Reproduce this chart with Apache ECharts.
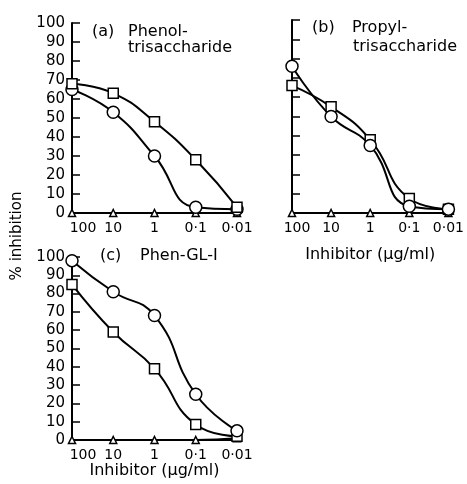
<!DOCTYPE html>
<html>
<head>
<meta charset="utf-8">
<script src="https://cdn.jsdelivr.net/npm/echarts@6/dist/echarts.min.js"></script>
<style>html,body{margin:0;padding:0;background:#fff}#c{width:467px;height:484px}</style>
</head>
<body>
<div id="c"></div>
<script>
// Inhibitor concentrations (µg/ml)
const conc = [100, 10, 1, 0.1, 0.01];
const xTickLabels = {'2': '100', '1': '10', '0': '1', '-1': '0·1', '-2': '0·01'};

// (a) Phenol-trisaccharide
const aSquares = [68, 63, 48, 28, 3];
const aCircles = [65, 53, 30, 3, 2];
const aTriangles = [0, 0, 0, 0, 0];
// (b) Propyl-trisaccharide
const bCircles = [76, 50, 35, 3.5, 2];
const bSquares = [66, 55, 38, 7.5, 2];
const bTriangles = [0, 0, 0, 0, 0];
// (c) Phen-GL-I
const cCircles = [98, 81, 68, 25, 5];
const cSquares = [85, 59, 39, 8.5, 2];
const cTriangles = [0, 0, 0, 0, 1];

const titleTexts = [
  ['(a)', 'Phenol-', 'trisaccharide'],
  ['(b)', 'Propyl-', 'trisaccharide'],
  ['(c)', 'Phen-GL-I']
];
const titlePos = [
  [[92, 32], [128, 32], [128, 48]],
  [[312, 28], [352, 28], [353, 47]],
  [[100, 256], [140, 256]]
];

const FONT = 'DejaVu Sans';
const chart = echarts.init(document.getElementById('c'), null, {renderer: 'canvas'});

const pairs = arr => arr.map((v, i) => [conc[i], v]);

function xAxis(gi, shift, name, gap) {
  return {
    type: 'log', logBase: 10, gridIndex: gi, min: 0.01, max: 100, inverse: true,
    axisLine: {show: true, lineStyle: {color: '#000', width: 2}},
    axisTick: {show: false},
    splitLine: {show: false},
    axisLabel: {
      margin: 8, color: '#000', fontFamily: FONT, fontSize: 14,
      formatter: v => {
        const k = String(Math.round(Math.log10(v)));
        const t = xTickLabels[k];
        return k === '2' ? '{f|' + t + '}' : t;
      },
      rich: {f: {padding: [0, 0, 0, shift], fontFamily: FONT, fontSize: 14, color: '#000'}}
    },
    name: name || '', nameLocation: 'middle', nameGap: gap || 20,
    nameTextStyle: {color: '#000', fontFamily: FONT, fontSize: 16}
  };
}
function yAxis(gi, labels) {
  return {
    type: 'value', gridIndex: gi, min: 0, max: 100, interval: 10,
    axisLine: {show: true, lineStyle: {color: '#000', width: 2}},
    axisTick: {show: true, inside: true, length: 8, lineStyle: {color: '#000', width: 1.5}},
    splitLine: {show: false},
    axisLabel: {show: labels, margin: 7, color: '#000', fontFamily: FONT, fontSize: 15}
  };
}
function series(gi, data, symbol, size) {
  return {
    type: 'line', xAxisIndex: gi, yAxisIndex: gi, data: pairs(data),
    smooth: 0.5, symbol: symbol, symbolSize: size, showSymbol: true,
    lineStyle: {color: '#000', width: 2},
    itemStyle: {color: '#fff', borderColor: '#000', borderWidth: 1.5},
    z: 3, animation: false
  };
}

const graphics = [];
titleTexts.forEach((arr, p) => arr.forEach((ln, i) => graphics.push({
  type: 'text', x: titlePos[p][i][0], y: titlePos[p][i][1],
  style: {text: ln, fill: '#000', font: '16px "' + FONT + '"', verticalAlign: 'middle'}
})));
graphics.push({
  type: 'text', x: 17, y: 236, rotation: Math.PI / 2,
  style: {text: '% inhibition', fill: '#000', font: '15px "' + FONT + '"', align: 'center', verticalAlign: 'middle'}
});

chart.setOption({
  animation: false,
  grid: [
    {left: 72, top: 23, width: 165, height: 190},
    {left: 292, top: 20, width: 160, height: 193},
    {left: 72, top: 257, width: 165, height: 183}
  ],
  xAxis: [xAxis(0, 22), xAxis(1, 10, 'Inhibitor (μg/ml)', 34), xAxis(2, 22, 'Inhibitor (μg/ml)', 17)],
  yAxis: [yAxis(0, true), yAxis(1, false), yAxis(2, true)],
  graphic: graphics,
  series: [
    series(0, aTriangles, 'triangle', 7),
    series(0, aCircles, 'circle', 12),
    series(0, aSquares, 'rect', 10),
    series(1, bTriangles, 'triangle', 7),
    series(1, bSquares, 'rect', 10),
    series(1, bCircles, 'circle', 12),
    series(2, cTriangles, 'triangle', 7),
    series(2, cSquares, 'rect', 10),
    series(2, cCircles, 'circle', 12)
  ]
});
</script>
</body>
</html>
